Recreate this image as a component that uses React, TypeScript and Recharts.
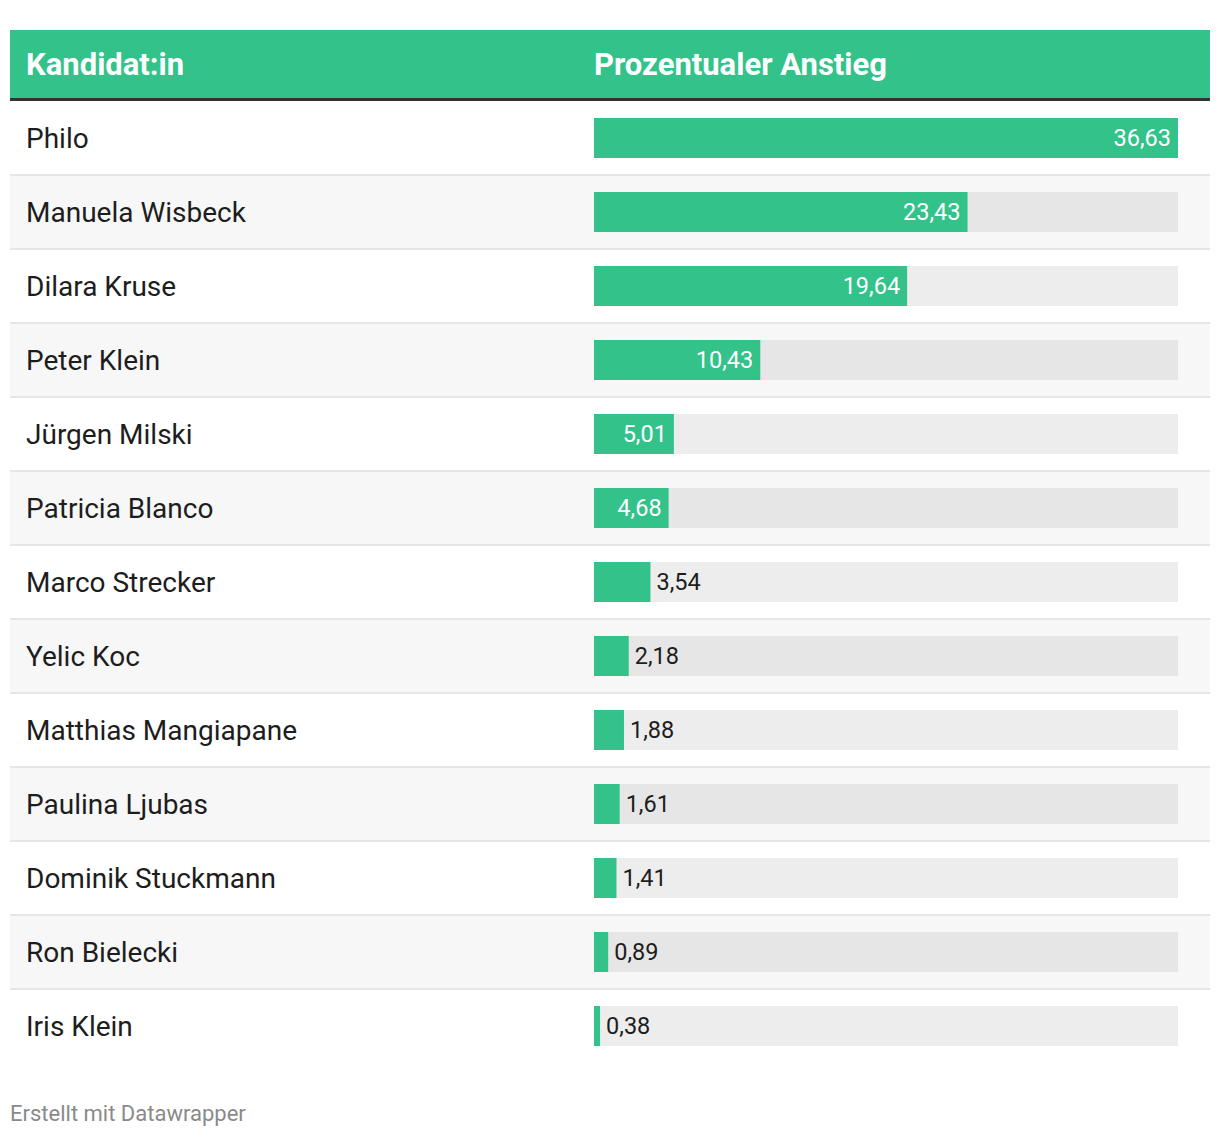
import React from 'react';
import { BarChart, Bar, XAxis, YAxis, LabelList } from 'recharts';

const candidates = [
  'Philo',
  'Manuela Wisbeck',
  'Dilara Kruse',
  'Peter Klein',
  'Jürgen Milski',
  'Patricia Blanco',
  'Marco Strecker',
  'Yelic Koc',
  'Matthias Mangiapane',
  'Paulina Ljubas',
  'Dominik Stuckmann',
  'Ron Bielecki',
  'Iris Klein',
];

const increases = [36.63, 23.43, 19.64, 10.43, 5.01, 4.68, 3.54, 2.18, 1.88, 1.61, 1.41, 0.89, 0.38];

const headers = ['Kandidat:in', 'Prozentualer Anstieg'];

const GREEN = '#32c28a';
const ROW_H = 74;
const BAR_H = 40;
const WIDTH = 1200;
const FONT = 'Roboto, "Noto Sans", sans-serif';

const data = candidates.map((name, i) => ({ name, value: increases[i] }));

const fmt = (v: number) => v.toFixed(2).replace('.', ',');

// full-width row stripe + grey track behind each bar
const RowBackground = (props: any) => {
  const { x, y, width, index } = props;
  const top = y - (ROW_H - BAR_H) / 2;
  const odd = index % 2 === 1;
  return (
    <g>
      <rect x={0} y={top} width={WIDTH} height={ROW_H} fill={odd ? '#f7f7f7' : '#ffffff'} />
      {index > 0 && <rect x={0} y={top - 1} width={WIDTH} height={2} fill="#e6e6e6" />}
      <rect x={x} y={y} width={width} height={BAR_H} fill={odd ? '#e6e6e6' : '#ededed'} />
    </g>
  );
};

const NameTick = (props: any) => {
  const { y, payload } = props;
  return (
    <text x={16} y={y} dominantBaseline="central" fill="#1d1d1d" fontSize={28} fontFamily={FONT}>
      {payload.value}
    </text>
  );
};

const ValueLabel = (props: any) => {
  const { x, y, width, height, value } = props;
  const inside = width > 70;
  return (
    <text
      x={inside ? x + width - 7 : x + width + 6}
      y={y + height / 2}
      dominantBaseline="central"
      textAnchor={inside ? 'end' : 'start'}
      fill={inside ? '#ffffff' : '#1d1d1d'}
      fontSize={23.5}
      fontFamily={FONT}
    >
      {fmt(value)}
    </text>
  );
};

export default function App() {
  return (
    <div style={{ marginLeft: 2, marginTop: 22, width: WIDTH, fontFamily: FONT }}>
      <div
        style={{
          height: 68,
          background: GREEN,
          borderBottom: '3px solid #333333',
          display: 'flex',
          alignItems: 'center',
          color: '#ffffff',
          fontWeight: 700,
          fontSize: 31,
        }}
      >
        <div style={{ width: 584, paddingLeft: 16, boxSizing: 'border-box' }}>{headers[0]}</div>
        <div>{headers[1]}</div>
      </div>
      <BarChart
        layout="vertical"
        width={WIDTH}
        height={ROW_H * data.length}
        data={data}
        margin={{ top: 0, right: 32, left: 0, bottom: 0 }}
      >
        <XAxis type="number" hide domain={[0, 'dataMax']} />
        <Bar
          dataKey="value"
          fill={GREEN}
          barSize={BAR_H}
          isAnimationActive={false}
          background={RowBackground}
        >
          <LabelList dataKey="value" content={ValueLabel} />
        </Bar>
        <YAxis
          type="category"
          dataKey="name"
          width={584}
          axisLine={false}
          tickLine={false}
          interval={0}
          tick={NameTick}
        />
      </BarChart>
      <div style={{ marginTop: 38, fontSize: 22, color: '#8a8a8a' }}>Erstellt mit Datawrapper</div>
    </div>
  );
}
